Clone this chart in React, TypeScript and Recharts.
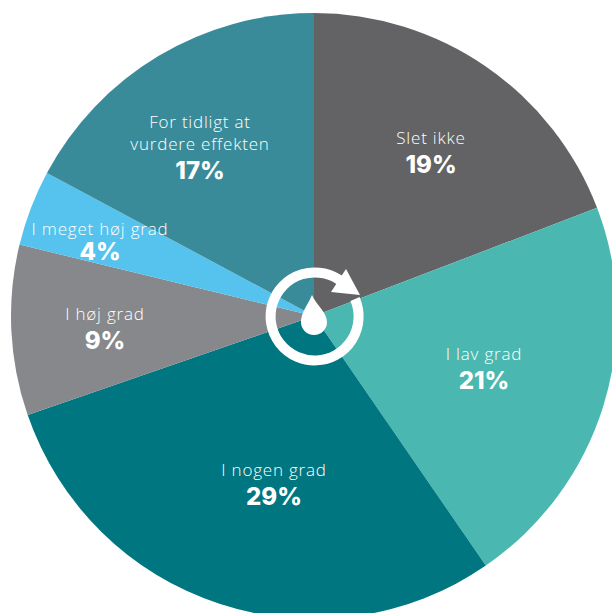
import React from 'react';
import { PieChart, Pie, Cell } from 'recharts';

const categories = ['Slet ikke', 'I lav grad', 'I nogen grad', 'I høj grad', 'I meget høj grad', 'For tidligt at vurdere effekten'];
const shares = [19, 21, 29, 9, 4, 17];
const colors = ['#636365', '#4ab8b0', '#007680', '#87888c', '#55c3ed', '#3a8b9a'];

// label anchor per slice, in page pixels: x centre and baseline of the percent line
const labelX = [431, 484, 274, 105, 100, 200];
const labelY = [173, 389, 505, 349, 260, 179];

const data = categories.map((name, i) => ({ name, value: shares[i] }));

const nameFont = '"Open Sans", sans-serif';

function splitName(name: string) {
  if (name.startsWith('For tidligt')) return ['For tidligt at', 'vurdere effekten'];
  return [name];
}

function SliceLabel(props: any) {
  const i = props.index;
  const lines = splitName(categories[i]);
  return (
    <g>
      {lines.map((line, k) => (
        <text
          key={k}
          x={labelX[i]}
          y={labelY[i] - (i === 4 ? 25 : 29) - (lines.length - 1 - k) * 22}
          textAnchor="middle"
          fill="#fff"
          fontFamily={nameFont}
          fontSize={17}
          fontWeight={300}
          letterSpacing={0.8}
        >
          {line}
        </text>
      ))}
      <text
        x={labelX[i]}
        y={labelY[i]}
        textAnchor="middle"
        fill="#fff"
        fontFamily="Inter, sans-serif"
        fontSize={24}
        fontWeight={800}
      >
        {shares[i]}%
      </text>
    </g>
  );
}

export default function App() {
  return (
    <div style={{ position: 'absolute', left: 0, top: 0, width: 612, height: 613, overflow: 'hidden', background: '#fff' }}>
      <PieChart width={612} height={613} margin={{ top: 0, right: 0, bottom: 0, left: 0 }}>
        <Pie
          data={data}
          dataKey="value"
          nameKey="name"
          cx={314}
          cy={316}
          innerRadius={0}
          outerRadius={303}
          startAngle={90}
          endAngle={-270}
          stroke="none"
          label={SliceLabel}
          labelLine={false}
          isAnimationActive={false}
        >
          {data.map((d, i) => (
            <Cell key={d.name} fill={colors[i]} />
          ))}
        </Pie>
      </PieChart>
      {/* logo in the middle, recharts drops plain svg children so it sits on top */}
      <svg width={612} height={613} style={{ position: 'absolute', left: 0, top: 0 }}>
        <path d="M355 299 A44 44 0 1 1 342 282" fill="none" stroke="#fff" strokeWidth={10} />
        <path d="M346 269 L331 292 L360 295 Z" fill="#fff" />
        <path d="M312 295 C308 305 301 312 301 322 A13 13 0 0 0 327 322 C327 312 316 305 312 295 Z" fill="#fff" />
      </svg>
    </div>
  );
}
